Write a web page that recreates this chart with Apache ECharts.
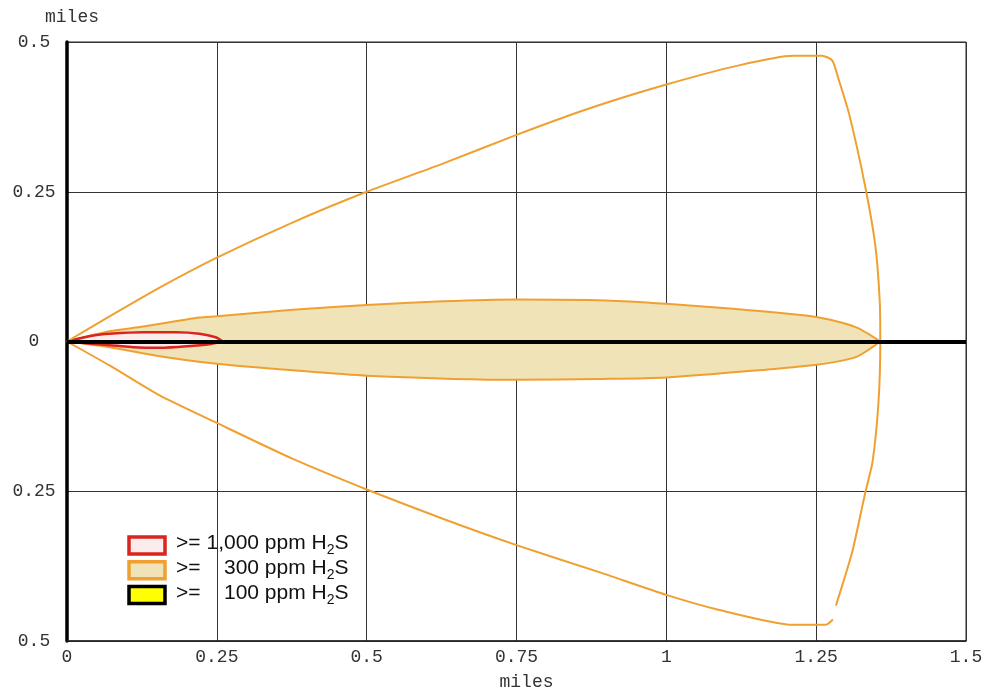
<!DOCTYPE html>
<html>
<head>
<meta charset="utf-8">
<script src="https://cdn.jsdelivr.net/npm/echarts@6/dist/echarts.min.js"></script>
<style>
  html, body { margin: 0; padding: 0; background: #fff; }
  #main { width: 987px; height: 696px; }
</style>
</head>
<body>
<div id="main"></div>
<script>
// plume footprint, miles downwind (x) / crosswind (y)
var xTicks = [0, 0.25, 0.5, 0.75, 1, 1.25, 1.5]
var yTicks = [-0.5, -0.25, 0, 0.25, 0.5]

// outer contour, drawn as an open outline (gap near the lower right corner)
var outerEdge = [
  [0, 0], [0.071, 0.042], [0.1545, 0.090], [0.25, 0.140], [0.377, 0.199],
  [0.5, 0.25], [0.627, 0.297], [0.75, 0.345], [0.871, 0.389], [1.0, 0.429],
  [1.121, 0.461], [1.211, 0.477], [1.26, 0.477], [1.277, 0.469], [1.288, 0.436],
  [1.305, 0.380], [1.332, 0.258], [1.349, 0.158], [1.356, 0.068], [1.357, 0],
  [1.354, -0.101], [1.344, -0.2015], [1.332, -0.252], [1.310, -0.352], [1.283, -0.441],
  [1.28, null],
  [1.278, -0.464], [1.266, -0.473], [1.211, -0.473], [1.082, -0.4465], [1.0, -0.423],
  [0.888, -0.385], [0.75, -0.340], [0.627, -0.296], [0.5, -0.247], [0.377, -0.196],
  [0.25, -0.136], [0.1545, -0.090], [0.071, -0.040], [0, 0]
]

// >= 300 ppm
var ppm300Upper = [
  [0, 0], [0.071, 0.017], [0.127, 0.025], [0.221, 0.040], [0.25, 0.042],
  [0.377, 0.053], [0.5, 0.061], [0.627, 0.067], [0.75, 0.070], [0.899, 0.0685],
  [1.0, 0.063], [1.111, 0.0546], [1.25, 0.041], [1.316, 0.024], [1.357, 0]
]
var ppm300Lower = [
  [0, 0], [0.071, -0.0095], [0.1545, -0.0245], [0.25, -0.037], [0.377, -0.048],
  [0.5, -0.057], [0.75, -0.064], [0.888, -0.0625], [1.0, -0.060], [1.166, -0.047],
  [1.25, -0.039], [1.316, -0.026], [1.357, 0]
]

// >= 1,000 ppm
var ppm1000Upper = [
  [0, 0], [0.044, 0.010], [0.071, 0.013], [0.127, 0.0155], [0.182, 0.0155],
  [0.221, 0.013], [0.248, 0.007], [0.26, 0]
]
var ppm1000Lower = [
  [0, 0], [0.044, -0.004], [0.111, -0.0095], [0.155, -0.0105], [0.2, -0.008],
  [0.24, -0.004], [0.26, 0]
]

var legendRows = [
  { num: '1,000', stroke: '#d8261e', fill: '#fcecec' },
  { num: '300', stroke: '#f0a030', fill: '#f1e3b8' },
  { num: '100', stroke: '#000000', fill: '#ffff00' }
]

var orange = '#f0a030'
var red = '#d8261e'
var tan = '#f1e3b8'
var mono = 'Liberation Mono'
var sans = 'Liberation Sans'

var chart = echarts.init(document.getElementById('main'))

function edge(name, data, color, fill, width, smooth) {
  var s = {
    name: name,
    type: 'line',
    data: data,
    showSymbol: false,
    symbol: 'none',
    smooth: smooth,
    connectNulls: false,
    lineStyle: { color: color, width: width },
    silent: true
  }
  if (fill) s.areaStyle = { color: fill, opacity: 1 }
  return s
}

var legendEls = [{
  type: 'rect',
  shape: { x: 100, y: 520, width: 262, height: 98 },
  style: { fill: '#fff' }
}]
legendRows.forEach(function (r, i) {
  var cy = 546 + i * 24.7
  var ty = 543 + i * 25
  legendEls.push({
    type: 'rect',
    shape: { x: 129, y: cy - 9, width: 36, height: 17 },
    style: { fill: r.fill, stroke: r.stroke, lineWidth: 3.5 }
  })
  legendEls.push({
    type: 'text', x: 176, y: ty,
    style: { text: '>=', fontFamily: sans, fontSize: 21, fill: '#111', verticalAlign: 'middle' }
  })
  legendEls.push({
    type: 'text', x: 259, y: ty,
    style: { text: r.num, fontFamily: sans, fontSize: 21, fill: '#111', align: 'right', verticalAlign: 'middle' }
  })
  legendEls.push({
    type: 'text', x: 259, y: ty,
    style: {
      text: ' ppm H{s|2}S',
      fontFamily: sans, fontSize: 21, fill: '#111', verticalAlign: 'middle',
      rich: { s: { fontFamily: sans, fontSize: 14, fill: '#111', padding: [14, 0, 0, 0] } }
    }
  })
})

var option = {
  animation: false,
  backgroundColor: '#fff',
  grid: {
    left: 67, right: 21, top: 42, bottom: 55,
    show: true, borderColor: '#222', borderWidth: 1
  },
  xAxis: {
    type: 'value',
    min: xTicks[0], max: xTicks[xTicks.length - 1], interval: 0.25,
    name: 'miles', nameLocation: 'middle', nameGap: 32,
    nameTextStyle: { fontFamily: mono, fontSize: 18, color: '#333', padding: [0, 0, 0, 20] },
    axisLine: { onZero: false, lineStyle: { color: '#222', width: 1.5 } },
    axisTick: { show: false },
    axisLabel: { fontFamily: mono, fontSize: 18, color: '#333', margin: 7 },
    splitLine: { show: true, lineStyle: { color: '#333', width: 1 } }
  },
  yAxis: {
    type: 'value',
    min: yTicks[0], max: yTicks[yTicks.length - 1], interval: 0.25,
    name: 'miles', nameLocation: 'end', nameGap: 16,
    nameTextStyle: { fontFamily: mono, fontSize: 18, color: '#333', padding: [0, 0, 0, 10] },
    axisLine: { onZero: false, lineStyle: { color: '#000', width: 3.5 } },
    axisTick: { show: false },
    axisLabel: {
      fontFamily: mono, fontSize: 18, color: '#333', align: 'center', margin: 33,
      formatter: function (v) { return String(Math.abs(v)) }
    },
    splitLine: { show: true, lineStyle: { color: '#333', width: 1 } }
  },
  series: [
    edge('300 upper', ppm300Upper, orange, tan, 2, 0.25),
    edge('300 lower', ppm300Lower, orange, tan, 2, 0.25),
    edge('1000 upper', ppm1000Upper, red, '#fcecec', 2.5, 0.25),
    edge('1000 lower', ppm1000Lower, red, '#fcecec', 2.5, 0.25),
    Object.assign(edge('outer', outerEdge, orange, null, 2, 0.2), {
      markLine: {
        silent: true,
        symbol: 'none',
        label: { show: false },
        lineStyle: { color: '#000', width: 4, type: 'solid' },
        data: [{ yAxis: 0 }]
      }
    })
  ],
  graphic: { elements: [{ type: 'group', z: 100, children: legendEls }] }
}
chart.setOption(option)
</script>
</body>
</html>
